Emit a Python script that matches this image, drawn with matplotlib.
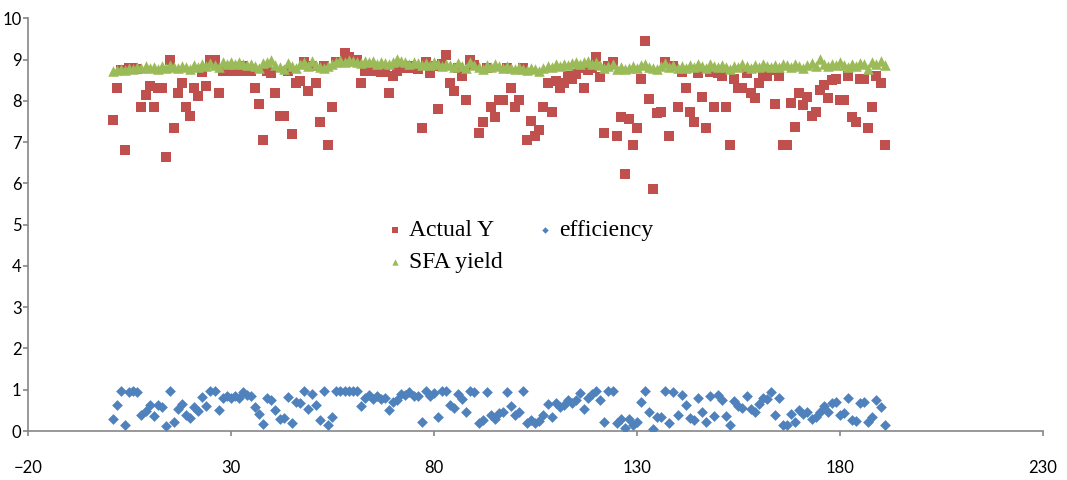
import numpy as np
import matplotlib
matplotlib.use("Agg")
import matplotlib.pyplot as plt

# observation index 1..191
obs = np.arange(1, 192)

actual_y = [
    7.53, 8.31, 8.75, 6.81, 8.80, 8.80, 8.77, 7.84, 8.14, 8.36,
    7.84, 8.31, 8.31, 6.63, 8.98, 7.33, 8.18, 8.43, 7.84, 7.62,
    8.31, 8.11, 8.69, 8.36, 8.99, 8.98, 8.18, 8.72, 8.72, 8.72,
    8.72, 8.72, 8.85, 8.72, 8.72, 8.31, 7.92, 7.06, 8.73, 8.68,
    8.18, 7.62, 7.62, 8.72, 7.19, 8.43, 8.49, 8.95, 8.24, 8.85,
    8.43, 7.48, 8.85, 6.92, 7.84, 8.95, 8.95, 9.16, 9.05, 9.00,
    8.99, 8.42, 8.72, 8.80, 8.72, 8.75, 8.70, 8.70, 8.18, 8.60,
    8.72, 8.85, 8.80, 8.85, 8.80, 8.77, 7.33, 8.93, 8.68, 8.85,
    7.79, 8.90, 9.12, 8.42, 8.24, 8.80, 8.60, 8.02, 9.00, 8.86,
    7.21, 7.48, 8.80, 7.84, 7.60, 8.02, 8.02, 8.80, 8.31, 7.84,
    8.02, 8.80, 7.05, 7.50, 7.14, 7.29, 7.84, 8.42, 7.73, 8.48,
    8.31, 8.42, 8.60, 8.52, 8.66, 8.80, 8.30, 8.75, 8.80, 9.07,
    8.58, 7.22, 8.85, 8.95, 7.14, 7.60, 6.23, 7.56, 6.92, 7.33,
    8.52, 9.45, 8.04, 5.87, 7.70, 7.73, 8.95, 7.14, 8.85, 7.84,
    8.70, 8.31, 7.73, 7.48, 8.67, 8.10, 7.33, 8.70, 7.84, 8.67,
    8.60, 7.84, 6.92, 8.52, 8.31, 8.31, 8.67, 8.18, 8.07, 8.42,
    8.68, 8.60, 8.75, 7.92, 8.60, 6.92, 6.92, 7.94, 7.36, 8.18,
    7.90, 8.10, 7.63, 7.73, 8.25, 8.39, 8.07, 8.51, 8.52, 8.02,
    8.02, 8.60, 7.60, 7.48, 8.52, 8.52, 7.33, 7.84, 8.60, 8.42,
    6.92,
]

sfa_yield = [
    8.72, 8.75, 8.78, 8.74, 8.80, 8.77, 8.83, 8.79, 8.85, 8.80,
    8.82, 8.78, 8.84, 8.80, 8.87, 8.83, 8.79, 8.84, 8.81, 8.78,
    8.86, 8.82, 8.88, 8.85, 8.92, 8.87, 8.83, 8.95, 8.90, 8.93,
    8.88, 8.94, 8.90, 8.86, 8.89, 8.84, 8.80, 8.91, 8.95, 8.98,
    8.86, 8.82, 8.76, 8.92, 8.84, 8.79, 8.88, 8.94, 8.85, 8.96,
    8.87, 8.82, 8.80, 8.85, 8.89, 8.94, 8.98, 8.95, 9.00, 8.97,
    8.94, 8.91, 8.96, 8.93, 8.97, 8.90, 8.95, 8.92, 8.88, 8.94,
    9.02, 8.96, 8.93, 8.90, 8.95, 8.92, 8.87, 8.91, 8.86, 8.93,
    8.88, 8.84, 8.90, 8.86, 8.81, 8.92, 8.85, 8.80, 8.93, 8.87,
    8.83, 8.78, 8.86, 8.81, 8.88, 8.84, 8.79, 8.85, 8.80, 8.76,
    8.82, 8.78, 8.74, 8.80, 8.76, 8.72, 8.79, 8.85, 8.81, 8.88,
    8.84, 8.90, 8.87, 8.92, 8.95, 8.89, 8.93, 8.96, 8.90, 8.94,
    8.86, 8.80, 8.84, 8.88, 8.78, 8.82, 8.76, 8.80, 8.84, 8.79,
    8.86, 8.90, 8.83, 8.80, 8.76, 8.85, 8.91, 8.82, 8.87, 8.80,
    8.84, 8.79, 8.86, 8.82, 8.90, 8.85, 8.80, 8.88, 8.84, 8.81,
    8.87, 8.83, 8.78, 8.85, 8.81, 8.88, 8.84, 8.80, 8.86, 8.83,
    8.89, 8.85, 8.81, 8.87, 8.83, 8.90, 8.86, 8.82, 8.88, 8.84,
    8.80, 8.86, 8.91, 8.85, 9.02, 8.88, 8.84, 8.90, 8.87, 8.93,
    8.86, 8.82, 8.89, 8.85, 8.92, 8.88, 8.78, 8.94, 8.90, 8.96,
    8.86,
]

efficiency = [
    0.30, 0.64, 0.97, 0.145, 0.95, 0.96, 0.94, 0.39, 0.49, 0.64,
    0.375, 0.625, 0.59, 0.115, 0.97, 0.22, 0.54, 0.66, 0.38, 0.31,
    0.58, 0.49, 0.83, 0.61, 0.97, 0.97, 0.52, 0.79, 0.84, 0.81,
    0.85, 0.80, 0.95, 0.87, 0.84, 0.59, 0.41, 0.16, 0.80, 0.74,
    0.51, 0.30, 0.32, 0.82, 0.19, 0.70, 0.68, 0.96, 0.54, 0.90,
    0.64, 0.26, 0.96, 0.145, 0.35, 0.96, 0.97, 0.97, 0.97, 0.97,
    0.96, 0.61, 0.79, 0.88, 0.78, 0.86, 0.78, 0.80, 0.50, 0.71,
    0.74, 0.90, 0.88, 0.95, 0.86, 0.86, 0.21, 0.96, 0.84, 0.92,
    0.34, 0.96, 0.97, 0.64, 0.57, 0.89, 0.78, 0.46, 0.97, 0.95,
    0.20, 0.27, 0.94, 0.38, 0.28, 0.44, 0.46, 0.95, 0.61, 0.40,
    0.45, 0.96, 0.185, 0.27, 0.20, 0.24, 0.39, 0.65, 0.34, 0.67,
    0.59, 0.62, 0.76, 0.67, 0.75, 0.91, 0.53, 0.81, 0.90, 0.97,
    0.76, 0.21, 0.96, 0.96, 0.19, 0.295, 0.08, 0.29, 0.147, 0.23,
    0.71, 0.97, 0.45, 0.053, 0.35, 0.33, 0.96, 0.19, 0.95, 0.38,
    0.87, 0.62, 0.32, 0.26, 0.79, 0.47, 0.23, 0.84, 0.37, 0.87,
    0.76, 0.37, 0.155, 0.72, 0.61, 0.57, 0.84, 0.54, 0.45, 0.66,
    0.81, 0.78, 0.94, 0.39, 0.79, 0.14, 0.145, 0.41, 0.22, 0.52,
    0.41, 0.47, 0.28, 0.33, 0.46, 0.61, 0.46, 0.68, 0.70, 0.40,
    0.43, 0.80, 0.275, 0.25, 0.67, 0.70, 0.23, 0.33, 0.74, 0.58,
    0.145,
]

x_ticks = [-20, 30, 80, 130, 180, 230]
y_ticks = list(range(0, 11))

fig = plt.figure(figsize=(10.67, 4.8), dpi=100)
ax = fig.add_axes([0.026, 0.102, 0.9515, 0.860])

sq = ax.scatter(obs, actual_y, marker="s", s=42, color="#C0504D",
                linewidths=0, label="Actual Y", zorder=2)
di = ax.scatter(obs, efficiency, marker="D", s=30, color="#4F81BD",
                linewidths=0, label="efficiency", zorder=3)
tr = ax.scatter(obs, sfa_yield, marker="^", s=58, color="#9BBB59",
                linewidths=0, label="SFA yield", zorder=4)

ax.set_xlim(-20, 230)
ax.set_ylim(0, 10)
ax.set_xticks(x_ticks)
ax.set_yticks(y_ticks)

for side in ["top", "right"]:
    ax.spines[side].set_visible(False)
for side in ["left", "bottom"]:
    ax.spines[side].set_color("#868686")
    ax.spines[side].set_linewidth(1.2)

ax.tick_params(axis="both", colors="#868686", length=3.5, width=1.2,
               labelcolor="black", labelsize=12)
ax.tick_params(axis="x", pad=17)
ax.tick_params(axis="y", pad=1)
for lab in ax.get_xticklabels() + ax.get_yticklabels():
    lab.set_family("Lato")

ax.legend([sq, tr, di], ["Actual Y", "SFA yield", "efficiency"], ncol=2,
          loc="center", bbox_to_anchor=(0.483, 0.448), frameon=False,
          prop={"family": "Liberation Serif", "size": 17},
          handletextpad=0.1, handlelength=1.0, columnspacing=1.3,
          labelspacing=0.45, markerscale=0.6)

fig.savefig("out.png", dpi=100)
